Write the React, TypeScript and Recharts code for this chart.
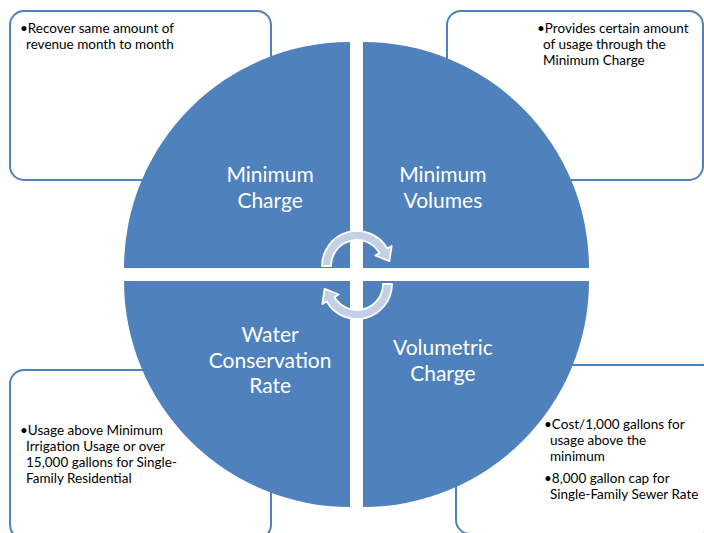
import React from "react";
import { PieChart, Pie, Cell } from "recharts";

// Four equal stages of the rate cycle
const stageNames = ["Minimum Charge", "Minimum Volumes", "Water Conservation Rate", "Volumetric Charge"];
const stageLines = [["Minimum", "Charge"], ["Minimum", "Volumes"], ["Water", "Conservation", "Rate"], ["Volumetric", "Charge"]];
const stageShare = [25, 25, 25, 25];

const noteTopLeft = [["Recover same amount of", "revenue month to month"]];
const noteTopRight = [["Provides certain amount", "of usage through the", "Minimum Charge"]];
const noteBottomLeft = [["Usage above Minimum", "Irrigation Usage or over", "15,000 gallons for Single-", "Family Residential"]];
const noteBottomRight = [
  ["Cost/1,000 gallons for", "usage above the", "minimum"],
  ["8,000 gallon cap for", "Single-Family Sewer Rate"],
];

const W = 704;
const H = 533;
const BLUE = "#4f81bd";
const FONT = "Lato, 'Open Sans', sans-serif";
const R = 226;
const RADIAN = Math.PI / 180;

// quadrant placement: corner point of each quarter disc and its angle span
const quadrants = [
  { cx: 350, cy: 268, start: 90, end: 180 },
  { cx: 363, cy: 268, start: 0, end: 90 },
  { cx: 350, cy: 281, start: 180, end: 270 },
  { cx: 363, cy: 281, start: 270, end: 360 },
];

const stageData = stageNames.map((name, i) => ({ name, value: stageShare[i], lines: stageLines[i] }));

function StageLabel(props: any) {
  const { cx, cy, midAngle, outerRadius, payload } = props;
  const r = outerRadius * 0.5;
  const x = cx + r * Math.cos(-midAngle * RADIAN);
  const y = cy + r * Math.sin(-midAngle * RADIAN);
  const lines: string[] = payload?.lines ?? props.lines ?? [];
  const lh = 25.5;
  return (
    <text x={x} fill="#fff" fontSize={21} fontFamily={FONT} textAnchor="middle">
      {lines.map((l, i) => (
        <tspan key={i} x={x} y={y + (i - (lines.length - 1) / 2) * lh + 7}>
          {l}
        </tspan>
      ))}
    </text>
  );
}

// curved cycle arrow, clockwise from a0 to a1 (degrees, y-up)
function arrowPath(cx: number, cy: number, a0: number, a1: number) {
  const ro = 35, ri = 26, wo = 40, wi = 21, head = 12;
  const p = (r: number, a: number) => [cx + r * Math.cos(a * RADIAN), cy - r * Math.sin(a * RADIAN)];
  const [sx, sy] = p(ro, a0);
  const [ex, ey] = p(ro, a1);
  const [wox, woy] = p(wo, a1);
  const [mx, my] = p((ro + ri) / 2, a1);
  const tx = mx + head * Math.sin(a1 * RADIAN);
  const ty = my + head * Math.cos(a1 * RADIAN);
  const [wix, wiy] = p(wi, a1);
  const [iex, iey] = p(ri, a1);
  const [isx, isy] = p(ri, a0);
  return `M${sx},${sy} A${ro},${ro} 0 0 1 ${ex},${ey} L${wox},${woy} L${tx},${ty} L${wix},${wiy} L${iex},${iey} A${ri},${ri} 0 0 0 ${isx},${isy} Z`;
}

function CycleArrows() {
  return (
    <svg width={W} height={H} style={{ position: "absolute", left: 0, top: 0, pointerEvents: "none" }}>
      <path d={arrowPath(357, 266, 180, 30)} fill="#c4d0e6" stroke="#fff" strokeWidth={1.8} strokeLinejoin="round" />
      <path d={arrowPath(357, 284, 0, 210)} fill="#c4d0e6" stroke="#fff" strokeWidth={1.8} strokeLinejoin="round" />
    </svg>
  );
}

function NoteBox({ left, top, width, height, textLeft, textTop, bullets }: any) {
  return (
    <>
      <div
        style={{
          position: "absolute",
          left,
          top,
          width,
          height,
          boxSizing: "border-box",
          border: `2.5px solid ${BLUE}`,
          borderRadius: 15,
        }}
      />
      <div
        style={{
          position: "absolute",
          left: textLeft,
          top: textTop,
          fontFamily: FONT,
          fontSize: 13.5,
          lineHeight: "16px",
          color: "#000",
          whiteSpace: "nowrap",
        }}
      >
        {bullets.map((lines: string[], i: number) => (
          <div key={i} style={{ marginTop: i ? 6 : 0 }}>
            {lines.map((l, j) => (
              <div key={j} style={{ paddingLeft: j ? 6 : 0 }}>
                {j === 0 ? "\u2022" : ""}
                {l}
              </div>
            ))}
          </div>
        ))}
      </div>
    </>
  );
}

export default function App() {
  return (
    <div style={{ position: "absolute", left: 0, top: 0, width: W, height: H, overflow: "hidden", background: "#fff" }}>
      <NoteBox left={9} top={10} width={263} height={171} textLeft={20} textTop={20} bullets={noteTopLeft} />
      <NoteBox left={446} top={10} width={258} height={171} textLeft={537} textTop={20} bullets={noteTopRight} />
      <NoteBox left={9} top={369} width={263} height={171} textLeft={20} textTop={422} bullets={noteBottomLeft} />
      <NoteBox left={455} top={364} width={262} height={171} textLeft={544} textTop={416} bullets={noteBottomRight} />
      <div style={{ position: "absolute", left: 0, top: 0 }}>
        <PieChart width={W} height={H} margin={{ top: 0, right: 0, bottom: 0, left: 0 }}>
          {quadrants.map((q, i) => (
            <Pie
              key={stageNames[i]}
              data={[stageData[i]]}
              dataKey="value"
              nameKey="name"
              cx={q.cx}
              cy={q.cy}
              startAngle={q.start}
              endAngle={q.end}
              innerRadius={0}
              outerRadius={R}
              stroke="none"
              label={StageLabel}
              labelLine={false}
              isAnimationActive={false}
            >
              <Cell fill={BLUE} />
            </Pie>
          ))}
        </PieChart>
      </div>
      <CycleArrows />
    </div>
  );
}
